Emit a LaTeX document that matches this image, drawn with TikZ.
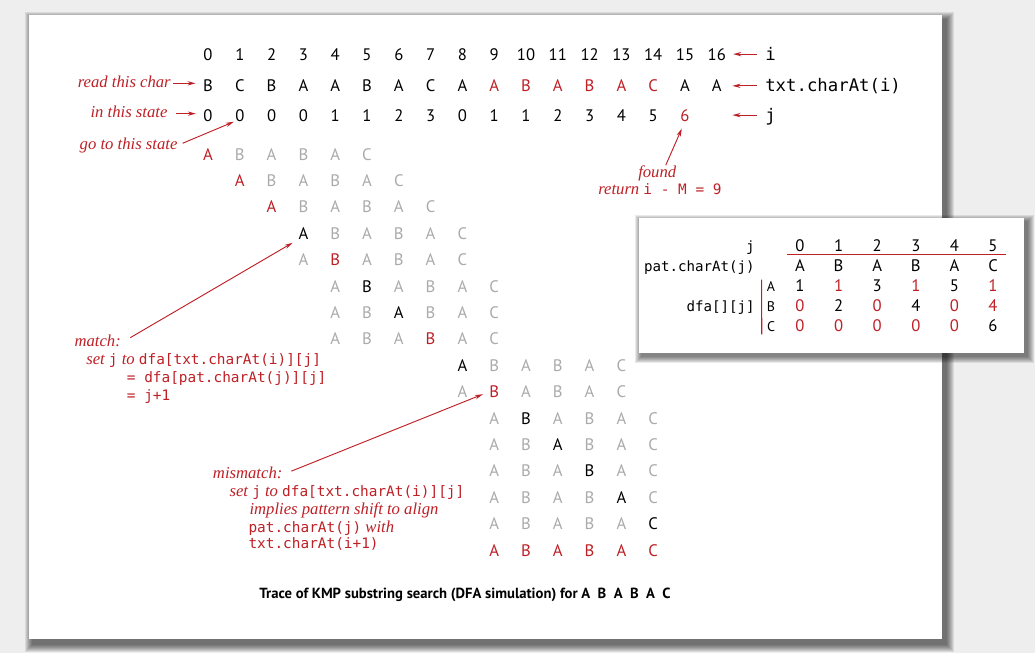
\documentclass[tikz,border=0pt]{standalone}
\usepackage{fontspec}
\setmainfont{PT Sans}
\setmonofont{DejaVu Sans Mono}
\newfontfamily\notefont{Liberation Serif}
\usetikzlibrary{arrows.meta,positioning,calc}

\definecolor{kmpred}{RGB}{190,32,38}
\definecolor{kmpgray}{RGB}{170,170,170}
\definecolor{pagegray}{RGB}{238,238,238}

\newcommand{\ltrfont}{\fontsize{12.5}{15}\selectfont}
\newcommand{\smallltr}{\fontsize{10.5}{12}\selectfont}
\newcommand{\notefnt}{\fontsize{12.5}{15}\selectfont\notefont\itshape}
\newcommand{\codefnt}{\fontsize{10.8}{13}\selectfont\ttfamily\upshape}
\newcommand{\bigcode}{\fontsize{13}{15}\selectfont\ttfamily}
\newcommand{\tabcode}{\fontsize{10.6}{13}\selectfont\ttfamily}
\newcommand{\capfnt}{\fontsize{11}{13}\selectfont\bfseries}
\newcommand{\cd}[1]{{\codefnt #1}}

\begin{document}
\begin{tikzpicture}[x=0.75pt,y=-0.75pt,
  ltr/.style={anchor=base,inner sep=0pt,text height=8.8pt,text depth=0pt,font=\ltrfont},
  note/.style={anchor=base west,inner sep=0pt,text height=8pt,text depth=2.5pt,text=kmpred,font=\notefnt},
  code/.style={anchor=base west,inner sep=0pt,text height=8pt,text depth=2.5pt,text=kmpred,font=\codefnt},
  pointer/.style={draw=kmpred,line width=0.7pt,-{Stealth[length=6pt,width=3.2pt]}},
  rule/.style={draw=kmpred,line width=0.8pt},
  shade/.style={fill=black,opacity=0.085}
]
\useasboundingbox (0,0) rectangle (1035,653);
% page, panel and its shadow
\fill[pagegray] (0,0) rectangle (1035,653);
\foreach \k in {1,...,8}
  \fill[shade] (33-\k,20-\k) rectangle (946+\k,644+\k);
\fill[white] (29,15) rectangle (942,639);

% index, text and state rows
\foreach \k in {0,...,16}
  \node[ltr] (i\k) at (208+31.8*\k,60) {\k};
\foreach \c/\tc [count=\k from 0] in {B/black,C/black,B/black,A/black,A/black,B/black,A/black,C/black,A/black,A/kmpred,B/kmpred,A/kmpred,B/kmpred,A/kmpred,C/kmpred,A/black,A/black}
  \node[ltr,text=\tc] (t\k) at (208+31.8*\k,91.7) {\c};
\foreach \s [count=\k from 0] in {0,0,0,0,1,1,2,3,0,1,1,2,3,4,5}
  \node[ltr] (s\k) at (208+31.8*\k,121) {\s};
\node[ltr,text=kmpred] (s15) at (208+31.8*15,121) {6};

% trace of the pattern, one row per step
\foreach \rw/\st/\hi/\hc/\oc in {0/0/0/kmpred/kmpgray, 1/1/1/kmpred/kmpgray, 2/2/2/kmpred/kmpgray,
    3/3/3/black/kmpgray, 4/3/4/kmpred/kmpgray, 5/4/5/black/kmpgray, 6/4/6/black/kmpgray,
    7/4/7/kmpred/kmpgray, 8/8/8/black/kmpgray, 9/8/9/kmpred/kmpgray, 10/9/10/black/kmpgray,
    11/9/11/black/kmpgray, 12/9/12/black/kmpgray, 13/9/13/black/kmpgray, 14/9/14/black/kmpgray,
    15/9/-1/kmpred/kmpred}
  \foreach \c [count=\p from 0] in {A,B,A,B,A,C}{
    \pgfmathtruncatemacro{\k}{\st+\p}
    \ifnum\k=\hi\relax \def\tc{\hc}\else\def\tc{\oc}\fi
    \node[ltr,text=\tc] (r\rw-\k) at (208+31.8*\k,160+26.4*\rw) {\c};
  }

% notes on the left
\node[note,anchor=base east] (readlbl) at (171,87) {read this char};
\node[note,anchor=base east] (statelbl) at (167.7,117.3) {in this state};
\node[note,anchor=base east] (gotolbl) at (177.7,149) {go to this state};
\draw[pointer,shorten <=1.5pt,shorten >=5.5pt] (readlbl.east) -- (readlbl.east -| t0.west);
\draw[pointer,shorten <=6.5pt,shorten >=5.5pt] (statelbl.east) -- (statelbl.east -| s0.west);
\draw[pointer,shorten <=4pt,shorten >=1pt] (gotolbl.east) -- (s1.south west);

% row labels on the right
\node[code,text=black,font=\bigcode] (ilbl) at (765,60) {i};
\node[code,text=black,font=\bigcode] (txtlbl) at (765,91.7) {txt.charAt(i)};
\node[code,text=black,font=\bigcode] (jlbl) at (765,121) {j};
\draw[pointer,shorten <=6pt,shorten >=5.3pt] (i16.east -| ilbl.west) -- (i16.east);
\draw[pointer,shorten <=6pt,shorten >=7.9pt] (t16.east -| txtlbl.west) -- (t16.east);
\draw[pointer,shorten <=6pt,shorten >=7.9pt] (s15.east -| jlbl.west) -- (s15.east -| t16.east);

% found
\node[note] (found) at (638,177.3) {found};
\node[note] (ret) at (598,194) {return \cd{i - M = 9}};
\draw[pointer,shorten <=1pt,shorten >=6pt] ([xshift=6pt]found.north) -- (s15.south);

% match
\node[note] (matchlbl) at (74.3,346.7) {match:};
\node[note] (m1) at (86,364.3) {set \cd{j} to \cd{dfa[txt.charAt(i)][j]}};
\node[code] (m2) at (126.7,382.7) {= dfa[pat.charAt(j)][j]};
\node[code] (m3) at (126.7,400) {= j+1};
\draw[pointer,shorten <=8pt,shorten >=5pt] (matchlbl.east) -- (r3-3.south west);

% mismatch
\node[note] (misslbl) at (212.7,478.3) {mismatch:};
\node[note] (n1) at (229.3,496) {set \cd{j} to \cd{dfa[txt.charAt(i)][j]}};
\node[note] (n2) at (249.3,514) {implies pattern shift to align};
\node[note] (n3) at (248.3,532) {\cd{pat.charAt(j)} with};
\node[code] (n4) at (248.3,548.3) {txt.charAt(i+1)};
\draw[pointer,shorten <=7pt,shorten >=5pt] (misslbl.east) -- (r9-9.west);

\node[anchor=base,inner sep=0pt,font=\capfnt] (caption) at (465,598)
  {Trace of KMP substring search (DFA simulation) for A\ \ B\ \ A\ \ B\ \ A\ \ C};

% dfa table
\foreach \k in {1,...,7}
  \fill[shade] (642-\k,222-\k) rectangle (1027+\k,356+\k);
\fill[white] (639,218) rectangle (1024,353);
\node[code,anchor=base east,text=black,font=\tabcode] (jhead) at (755,251) {j};
\node[code,anchor=base east,text=black,font=\tabcode] (pathead) at (755,271.7) {pat.charAt(j)};
\node[code,anchor=base east,text=black,font=\tabcode] (dfahead) at (755,311.7) {dfa[][j]};
\foreach \k in {0,...,5}
  \node[ltr] (h\k) at (800+38.6*\k,251) {\k};
\foreach \c [count=\k from 0] in {A,B,A,B,A,C}
  \node[ltr] (p\k) at (800+38.6*\k,271.7) {\c};
\foreach \c/\yy in {A/291.7,B/311.7,C/331.7}
  \node[ltr,font=\smallltr] (row\c) at (771,\yy) {\c};
\foreach \v/\tc [count=\k from 0] in {1/black,1/kmpred,3/black,1/kmpred,5/black,1/kmpred}
  \node[ltr,text=\tc] (a\k) at (800+38.6*\k,291.7) {\v};
\foreach \v/\tc [count=\k from 0] in {0/kmpred,2/black,0/kmpred,4/black,0/kmpred,4/kmpred}
  \node[ltr,text=\tc] (b\k) at (800+38.6*\k,311.7) {\v};
\foreach \v/\tc [count=\k from 0] in {0/kmpred,0/kmpred,0/kmpred,0/kmpred,0/kmpred,6/black}
  \node[ltr,text=\tc] (c\k) at (800+38.6*\k,331.7) {\v};
\draw[rule] ($(h0.south west)+(-8,3)$) -- ($(h5.south east)+(8,3)$);
\draw[rule] ($(rowA.north west)+(-5,0)$) -- ($(rowC.south west)+(-5,2.5)$);
\end{tikzpicture}
\end{document}
